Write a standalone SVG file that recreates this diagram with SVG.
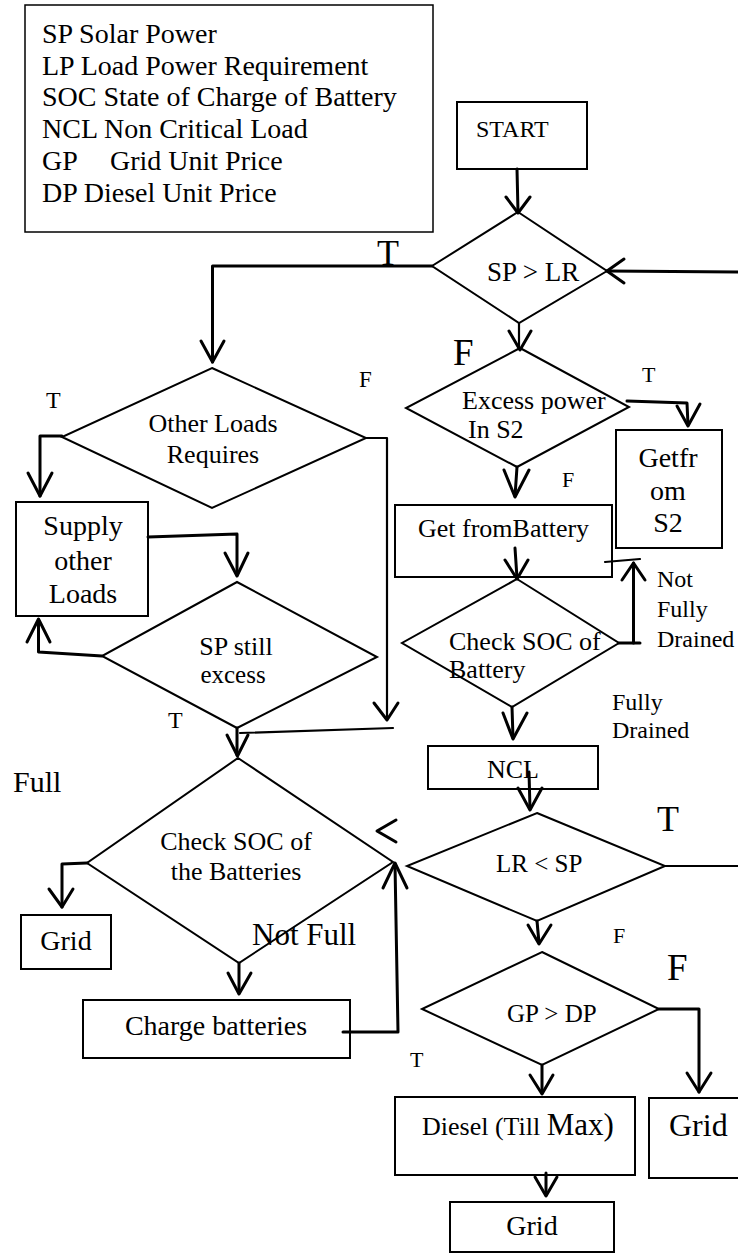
<svg xmlns="http://www.w3.org/2000/svg" width="738" height="1258" viewBox="0 0 738 1258">
<style>
.n{fill:#fff;stroke:#000;stroke-width:2}
.t{font-family:"Liberation Serif","Times New Roman",serif;fill:#000}
.c{fill:none;stroke:#000;stroke-width:2.2;stroke-linecap:round;stroke-linejoin:round}
.k{fill:none;stroke:#000;stroke-width:3;stroke-linecap:round;stroke-linejoin:round}
.m{text-anchor:middle}
</style>
<rect width="738" height="1258" fill="#fff"/>
<g id="legend">
<rect x="25" y="5" width="408" height="227" fill="#fff" stroke="#000" stroke-width="1.5"/>
<g class="t" font-size="28">
<text x="42" y="43">SP Solar Power</text>
<text x="42" y="74.5">LP Load Power Requirement</text>
<text x="42" y="106">SOC State of Charge of Battery</text>
<text x="42" y="138">NCL Non Critical Load</text>
<text x="42" y="170">GP</text><text x="110" y="170">Grid Unit Price</text>
<text x="42" y="202">DP Diesel Unit Price</text>
</g>
</g>
<g id="start"><rect class="n" x="457" y="102" width="130" height="67"/><text class="t" x="476" y="137" font-size="24">START</text></g>
<g id="d-sp-lr"><polygon class="n" points="518,212 607,271 519,323 432,266"/><text class="t" x="487" y="281" font-size="27">SP &gt; LR</text></g>
<g id="d-other"><polygon class="n" points="212,368 366,438 212,508 62,437"/><text class="t m" x="213" y="432" font-size="26">Other Loads</text><text class="t m" x="213" y="463" font-size="26">Requires</text></g>
<g id="supply"><rect class="n" x="16" y="502" width="132" height="114"/><text class="t m" x="83" y="535" font-size="28">Supply</text><text class="t m" x="83" y="570" font-size="28">other</text><text class="t m" x="83" y="603" font-size="28">Loads</text></g>
<g id="d-still"><polygon class="n" points="237,582 377,657 237,728 102,656"/><text class="t m" x="236" y="655" font-size="26">SP still</text><text class="t m" x="233" y="683" font-size="25">excess</text></g>
<g id="d-soc-batteries"><polygon class="n" points="238,758 393,862 239,963 87,863"/><text class="t m" x="236" y="850" font-size="26">Check SOC of</text><text class="t m" x="236" y="880" font-size="26">the Batteries</text></g>
<g id="grid-left"><rect class="n" x="21" y="915" width="90" height="54"/><text class="t m" x="66" y="950" font-size="28">Grid</text></g>
<g id="charge"><rect class="n" x="83" y="1000" width="267" height="58"/><text class="t m" x="216" y="1035" font-size="28">Charge batteries</text></g>
<g id="d-excess"><polygon class="n" points="520,348 629,407 517,467 406,408"/><text class="t" x="462" y="409" font-size="26">Excess power</text><text class="t" x="468" y="438" font-size="26">In S2</text></g>
<g id="get-s2"><rect class="n" x="616" y="430" width="106" height="118"/><text class="t m" x="668" y="467" font-size="28">Getfr</text><text class="t m" x="668" y="500" font-size="28">om</text><text class="t m" x="668" y="532" font-size="28">S2</text></g>
<g id="get-battery"><rect class="n" x="395" y="505" width="217" height="72"/><text class="t" x="418" y="537" font-size="26">Get fromBattery</text></g>
<g id="d-soc-battery"><polygon class="n" points="517,579 619,643 512,707 402,643"/><text class="t" x="449" y="650" font-size="26">Check SOC of</text><text class="t" x="449" y="678" font-size="26">Battery</text></g>
<g id="ncl"><rect class="n" x="428" y="746" width="170" height="43"/><text class="t" x="487" y="778" font-size="26">NCL</text></g>
<g id="d-lr-sp"><polygon class="n" points="537,813 665,866 537,921 407,866"/><text class="t" x="496" y="872" font-size="25">LR &lt; SP</text></g>
<g id="d-gp-dp"><polygon class="n" points="542,952 659,1009 542,1065 422,1009"/><text class="t" x="507" y="1022" font-size="25">GP &gt; DP</text></g>
<g id="diesel"><rect class="n" x="395" y="1097" width="240" height="78"/><text class="t" x="422" y="1135" font-size="26">Diesel (Till <tspan font-size="31">Max)</tspan></text></g>
<g id="grid-right"><rect class="n" x="649" y="1098" width="92" height="80"/><text class="t" x="669" y="1136" font-size="32">Grid</text></g>
<g id="grid-bottom"><rect class="n" x="450" y="1202" width="164" height="50"/><text class="t m" x="532" y="1235" font-size="28">Grid</text></g>
<g id="connectors">
<line class="k" x1="517" y1="169" x2="518" y2="212"/><polyline class="k" points="506,197 518,213 530,197"/>
<line class="k" x1="740" y1="272" x2="607" y2="271"/><polyline class="k" points="624,259 607,271 624,283"/>
<polyline class="k" points="432,266 212.5,266 212.5,362"/><polyline class="k" points="201,341 212.5,362 224,341"/>
<line class="c" x1="519" y1="323" x2="519" y2="349"/><polyline class="k" points="509,331 520,350 531,331"/>
<polyline class="k" points="62,436 40,436 40,496"/><polyline class="k" points="28,473 40,496 52,473"/>
<polyline class="c" points="366,438 387,438 387,720"/><polyline class="k" points="374,703 387,720 398,703"/>
<line class="c" x1="393" y1="728" x2="240" y2="733"/>
<line class="k" x1="237" y1="728" x2="237" y2="755"/><polyline class="k" points="227,735 237.5,756 248,735"/>
<polyline class="k" points="148,537 237,534 237,575"/><polyline class="k" points="225,553 237,576 248,553"/>
<polyline class="k" points="102,656 38.5,652 38.5,620"/><polyline class="k" points="27,642 38.5,619 50,642"/>
<polyline class="k" points="87,863 62,864 62,907"/><polyline class="k" points="49,889 62,907 73,889"/>
<line class="k" x1="239" y1="963" x2="239" y2="993"/><polyline class="k" points="228,973 239,994 251,973"/>
<polyline class="k" points="343,1032 398,1032 395,864"/><polyline class="k" points="383,888 395,863 407,888"/>
<polyline class="k" points="396,820 377,831 396,842"/>
<polyline class="k" points="627,401 687,403 688,425"/><polyline class="k" points="677,406 688,426 700,404"/>
<line class="k" x1="517" y1="467" x2="515" y2="496"/><polyline class="k" points="504,470 515,497 529,470"/>
<line class="k" x1="515" y1="548" x2="517" y2="578"/><polyline class="k" points="505,560 517,579 528,560"/>
<polyline class="k" points="619,643 640,643"/><line class="k" x1="633.5" y1="643" x2="633.5" y2="563"/><polyline class="k" points="622,580 633.5,563 645,580"/>
<line class="c" x1="605" y1="562" x2="640" y2="559"/>
<line class="k" x1="512" y1="707" x2="513" y2="738"/><polyline class="k" points="503,713 513,739 527,713"/>
<line class="k" x1="529" y1="772" x2="530" y2="809"/><polyline class="k" points="518,788 530,810 542,788"/>
<line class="c" x1="665" y1="866" x2="740" y2="866"/>
<line class="k" x1="537" y1="921" x2="539" y2="943"/><polyline class="k" points="528,925 539,944 551,925"/>
<polyline class="k" points="659,1009 699,1009 699,1092"/><polyline class="k" points="687,1073 699,1092 711,1073"/>
<line class="k" x1="542" y1="1065" x2="542" y2="1093"/><polyline class="k" points="530,1075 542,1094 553,1075"/>
<line class="k" x1="546" y1="1173" x2="546" y2="1195"/><polyline class="k" points="535,1177 546,1196 557,1177"/>
</g>
<g id="labels" class="t">
<text x="377" y="265" font-size="36">T</text>
<text x="453" y="365" font-size="37">F</text>
<text x="359" y="387" font-size="23">F</text>
<text x="46" y="408" font-size="24">T</text>
<text x="168" y="728" font-size="24">T</text>
<text x="13" y="792" font-size="30">Full</text>
<text x="252" y="945" font-size="31">Not Full</text>
<text x="642" y="382" font-size="22">T</text>
<text x="562" y="487" font-size="22">F</text>
<text x="657" y="587" font-size="24">Not</text>
<text x="657" y="617" font-size="24">Fully</text>
<text x="657" y="647" font-size="24">Drained</text>
<text x="612" y="710" font-size="24">Fully</text>
<text x="612" y="738" font-size="24">Drained</text>
<text x="657" y="831" font-size="36">T</text>
<text x="613" y="943" font-size="22">F</text>
<text x="667" y="980" font-size="37">F</text>
<text x="410" y="1067" font-size="22">T</text>
</g>
</svg>
